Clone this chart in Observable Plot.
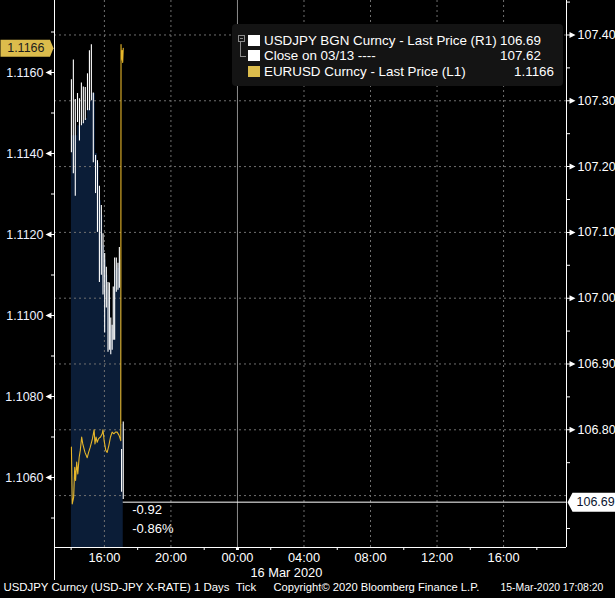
<!DOCTYPE html>
<html>
<head>
<meta charset="utf-8">
<script src="https://cdn.jsdelivr.net/npm/d3@7"></script>
<script src="https://cdn.jsdelivr.net/npm/@observablehq/plot@0.6"></script>
<style>
  html, body { margin: 0; padding: 0; background: #000; overflow: hidden; }
  #wrap { position: relative; width: 615px; height: 598px; overflow: hidden; background: #000;
          font-family: "Liberation Sans", Arial, sans-serif; color: #fff; }
  #chart svg { display: block; }
  #legend { position: absolute; left: 232px; top: 24px; width: 331px; height: 62px;
            background: #141414; border-radius: 4px; font-size: 13.4px; }
  #legend .row { position: absolute; left: 0; right: 0; height: 16px; line-height: 16px; }
  #legend .sw { position: absolute; left: 16px; top: 2px; width: 12px; height: 11px; }
  #legend .lab { position: absolute; left: 32px; top: 0; white-space: pre; }
  #legend .val { position: absolute; top: 0; white-space: pre; }
</style>
</head>
<body>
<div id="wrap">
  <div id="chart"></div>
  <div id="legend"></div>
</div>
<script>
// ---------------- data ----------------
// USDJPY tick bars, 15 Mar 2020 (right axis)
const jpTimes = ["14:01","14:08","14:15","14:23","14:30","14:37","14:44","14:51","14:59","15:06",
                 "15:13","15:20","15:28","15:35","15:42","15:49","15:55","16:01","16:07","16:13",
                 "16:18","16:23","16:28","16:32","16:37","16:43","16:49","16:54","17:02","17:08"];
const jpHigh  = [107.332,107.362,107.302,107.311,107.303,107.327,107.321,107.320,107.341,107.376,
                 107.385,107.312,107.217,107.209,107.170,107.141,107.098,107.068,107.047,107.024,
                 107.023,106.970,106.959,107.017,107.061,107.061,107.053,107.077,106.770,106.812];
const jpLow   = [107.221,107.189,107.155,107.267,107.239,107.262,107.265,107.270,107.285,107.285,
                 107.300,107.206,107.159,107.100,107.024,107.035,107.005,106.947,106.985,106.918,
                 106.921,106.914,106.921,106.936,106.936,107.009,107.012,107.015,106.705,106.694];
const jpArea  = [107.247,107.247,107.247,107.262,107.262,107.267,107.270,107.273,107.288,107.300,
                 107.311,107.311,107.220,107.205,107.148,107.126,107.080,107.058,107.035,107.012,
                 106.997,106.959,106.952,106.997,107.042,107.050,107.045,107.058,106.808,106.808];
// EURUSD last price, 15 Mar 2020 (left axis)
const euTimes  = ["14:01","14:04","14:09","14:13","14:16","14:20","14:24","14:29","14:33","14:38",
                  "14:42","14:45","14:50","14:58","15:03","15:09","15:17","15:23","15:26","15:30",
                  "15:34","15:39","15:46","15:52","15:55","15:59","16:05","16:10","16:16","16:22",
                  "16:28","16:34","16:40","16:46","16:53","16:59","17:00","17:01","17:04","17:06","17:08"];
const euValues = [1.10675,1.10535,1.10551,1.10625,1.10593,1.10638,1.10609,1.10650,1.10667,1.10700,
                  1.10683,1.10675,1.10662,1.10649,1.10662,1.10675,1.10696,1.10718,1.10683,1.10700,
                  1.10687,1.10696,1.10700,1.10708,1.10718,1.10691,1.10667,1.10662,1.10679,1.10700,
                  1.10712,1.10708,1.10712,1.10712,1.10704,1.10691,1.11669,1.11630,1.11654,1.11625,1.11660];
// last values / legend
const lastUsdJpy = 106.69;
const closeUsdJpy = 107.62;
const lastEurUsd = 1.1166;
const changeLabels = ["-0.92", "-0.86%"];
const legendRows = [
  {label: "USDJPY BGN Curncy - Last Price (R1)", value: "106.69", color: "#ffffff"},
  {label: "Close on 03/13 ----", value: "107.62", color: "#ffffff"},
  {label: "EURUSD Curncy - Last Price (L1)", value: "1.1166", color: "#dcbc4c"}
];
// axes
const xStart = "2020-03-15 13:00", xEnd = "2020-03-16 19:47";
const xLabelTimes = ["2020-03-15 16:00","2020-03-15 20:00","2020-03-16 00:00","2020-03-16 04:00",
                     "2020-03-16 08:00","2020-03-16 12:00","2020-03-16 16:00"];
const xMinorTimes = ["2020-03-15 14:00","2020-03-15 18:00","2020-03-15 22:00","2020-03-16 02:00",
                     "2020-03-16 06:00","2020-03-16 10:00","2020-03-16 14:00","2020-03-16 18:00"];
const dayBoundary = "2020-03-16 00:00";
const dateLabel = "16 Mar 2020";
const rightDomain = [106.6211, 107.4524];
const leftDomain  = [1.104272, 1.117778];
const rightLabelTicks = [106.80,106.90,107.00,107.10,107.20,107.30,107.40];
const rightGridTicks  = [106.70,106.80,106.90,107.00,107.10,107.20,107.30,107.40];
const rightMinorTicks = [106.65,106.75,106.85,106.95,107.05,107.15,107.25,107.35,107.45];
const leftLabelTicks  = [1.1060,1.1080,1.1100,1.1120,1.1140,1.1160];
const leftMinorTicks  = [1.1050,1.1070,1.1090,1.1110,1.1130,1.1150,1.1170];
const footerTexts = [
  {text: "USDJPY Curncy (USD-JPY X-RATE) 1 Days\u00a0\u00a0Tick", dx: -51, size: 11.4},
  {text: "Copyright\u00a9 2020 Bloomberg Finance L.P.", dx: 219, size: 11.2},
  {text: "15-Mar-2020 17:08:20", dx: 446, size: 10.4}
];

// ---------------- build ----------------
const parseT = d3.utcParse("%Y-%m-%d %H:%M");
const day15 = s => parseT("2020-03-15 " + s);
const jp = jpTimes.map((t, i) => ({t: day15(t), high: jpHigh[i], low: jpLow[i], area: jpArea[i]}));
const eu2jp = d3.scaleLinear().domain(leftDomain).range(rightDomain);
const eu = euTimes.map((t, i) => ({t: day15(t), v: euValues[i], y: eu2jp(euValues[i])}));
const xDomain = [parseT(xStart), parseT(xEnd)];
const lastT = jp[jp.length - 1].t;

const GRID = "#707070", YEL = "#e6b62a";

const leftTri = {draw(c) { c.moveTo(-9, 0); c.lineTo(-3, -3); c.lineTo(-3, 3); c.closePath();
                            c.rect(-3, -0.5, 3, 1); }};
const rightTri = {draw(c) { c.moveTo(9, 0); c.lineTo(3, -3); c.lineTo(3, 3); c.closePath();
                             c.rect(0, -0.5, 3, 1); }};
const leftBox = {draw(c) { c.moveTo(-1, 0); c.lineTo(-4.5, -8.5); c.lineTo(-54, -8.5);
                            c.lineTo(-54, 8.5); c.lineTo(-4.5, 8.5); c.closePath(); }};
const rightBox = {draw(c) { c.moveTo(1, 0); c.lineTo(6, -9.5); c.lineTo(49, -9.5);
                             c.lineTo(49, 9.5); c.lineTo(6, 9.5); c.closePath(); }};

const fmt4 = d3.format(".4f"), fmt2 = d3.format(".2f");

const chart = Plot.plot({
  width: 615, height: 598,
  marginTop: 0, marginLeft: 54, marginRight: 49, marginBottom: 51,
  x: {type: "utc", domain: xDomain, axis: null, label: null},
  y: {domain: rightDomain, axis: null, label: null},
  style: {background: "#000", color: "#fff", fontFamily: "Liberation Sans, Arial, sans-serif", fontSize: "12.5px", overflow: "hidden"},
  marks: [
    // mountain under USDJPY
    Plot.areaY(jp, {x: "t", y1: rightDomain[0], y2: "area", curve: "step-after", fill: "#0b1d37"}),
    // grid
    Plot.ruleY(rightGridTicks, {stroke: GRID, strokeDasharray: "2,3"}),
    Plot.ruleX(xLabelTimes.filter(d => d !== dayBoundary).map(parseT), {stroke: GRID, strokeDasharray: "2,3"}),
    Plot.ruleX([parseT(dayBoundary)], {stroke: "#8c8c8c"}),
    // USDJPY tick bars
    Plot.ruleX(jp, {x: "t", y1: "low", y2: "high", stroke: "#fff", strokeWidth: 1.1}),
    // last price line
    Plot.ruleY([lastUsdJpy], {x1: lastT, x2: xDomain[1], stroke: "#fff"}),
    // EURUSD line
    Plot.line(eu, {x: "t", y: "y", stroke: YEL, strokeWidth: 1.1}),
    // frame lines
    Plot.ruleX([xDomain[0]], {stroke: "#fff", insetBottom: -33}),
    Plot.ruleX([xDomain[1]], {stroke: "#fff"}),
    Plot.ruleY([rightDomain[0]], {stroke: "#fff"}),
    // change annotation
    Plot.text([changeLabels[0]], {x: () => lastT, y: () => lastUsdJpy, text: d => d, dx: 9, dy: 3,
      lineAnchor: "top", textAnchor: "start", fill: "#fff", fontSize: 13}),
    Plot.text([changeLabels[1]], {x: () => lastT, y: () => lastUsdJpy, text: d => d, dx: 9, dy: 22,
      lineAnchor: "top", textAnchor: "start", fill: "#fff", fontSize: 13}),
    // left axis (EURUSD)
    Plot.axisY(leftMinorTicks.map(eu2jp), {anchor: "left", tickSize: 3, text: null, label: null, stroke: "#fff"}),
    Plot.axisY(leftLabelTicks.map(eu2jp), {anchor: "left", tickSize: 0, tickPadding: 11, label: null,
      tickFormat: v => fmt4(eu2jp.invert(v)), fill: "#eef2ff", fontSize: 12.5}),
    Plot.dot(leftLabelTicks, {y: d => eu2jp(d), frameAnchor: "left", symbol: leftTri, fill: "#fff", stroke: null}),
    // right axis (USDJPY)
    Plot.axisY(rightMinorTicks, {anchor: "right", tickSize: 3, text: null, label: null, stroke: "#fff"}),
    Plot.axisY(rightLabelTicks, {anchor: "right", tickSize: 0, tickPadding: 11, label: null,
      tickFormat: fmt2, fill: "#fff", fontSize: 12.5}),
    Plot.dot(rightLabelTicks, {y: d => d, frameAnchor: "right", symbol: rightTri, fill: "#fff", stroke: null}),
    // x axis
    Plot.axisX(xMinorTimes.map(parseT), {anchor: "bottom", tickSize: 3, text: null, label: null, stroke: "#fff"}),
    Plot.axisX(xLabelTimes.map(parseT), {anchor: "bottom", tickSize: 0, tickPadding: 5, label: null,
      tickFormat: d3.utcFormat("%H:%M"), fill: "#fff", fontSize: 12.8}),
    Plot.dot([parseT(dayBoundary)], {x: d => d, frameAnchor: "bottom", symbol: "square", r: 1.7, dy: 1, fill: "#fff", stroke: null}),
    Plot.text([dateLabel], {x: () => parseT(dayBoundary), frameAnchor: "bottom", text: d => d,
      dx: 13, dy: 20, lineAnchor: "top", textAnchor: "start", fill: "#fff", fontSize: 12.8}),
    // last value labels
    Plot.dot([lastEurUsd], {y: d => eu2jp(d), frameAnchor: "left", symbol: leftBox, fill: "#dcbc4c", stroke: null}),
    Plot.text([lastEurUsd], {y: d => eu2jp(d), frameAnchor: "left", text: d => fmt4(d), dx: -10,
      textAnchor: "end", fill: "#1c1c1c", fontSize: 12.5}),
    Plot.dot([lastUsdJpy], {y: d => d, frameAnchor: "right", symbol: rightBox, fill: "#fff", stroke: null}),
    Plot.text([lastUsdJpy], {y: d => d, frameAnchor: "right", text: d => fmt2(d), dx: 10,
      textAnchor: "start", fill: "#0a1430", fontSize: 12.5}),
    // footer
    ...footerTexts.map(f => Plot.text([f.text], {frameAnchor: "bottom-left", text: d => d, dx: f.dx, dy: 43,
      textAnchor: "start", fill: "#fff", fontSize: f.size}))
  ]
});
document.getElementById("chart").appendChild(chart);

// legend
const lg = document.getElementById("legend");
const rowTops = [8.7, 24, 40.3];
const valRight = [22, 22, 9];
legendRows.forEach((r, i) => {
  const row = document.createElement("div");
  row.className = "row";
  row.style.top = rowTops[i] + "px";
  row.innerHTML = `<div class="sw" style="background:${r.color}"></div>` +
                  `<div class="lab">${r.label}</div>` +
                  `<div class="val" style="right:${valRight[i]}px">${r.value}</div>`;
  lg.appendChild(row);
});
// tree connector icon
const icon = document.createElement("div");
icon.style.cssText = "position:absolute;left:6px;top:11px;width:5px;height:5px;border:1px solid #8a8a8a;";
icon.innerHTML = '<div style="position:absolute;left:1px;top:2px;width:3px;height:1px;background:#8a8a8a"></div>';
lg.appendChild(icon);
const conn = document.createElement("div");
conn.style.cssText = "position:absolute;left:8px;top:18px;width:5px;height:14px;border-left:1px solid #8a8a8a;border-bottom:1px solid #8a8a8a;";
lg.appendChild(conn);
</script>
</body>
</html>
